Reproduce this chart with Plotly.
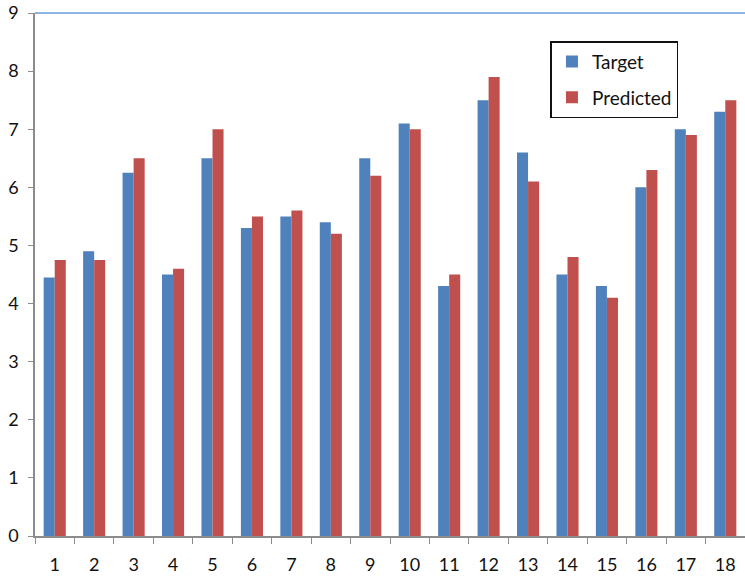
import plotly.graph_objects as go

categories = [str(i) for i in range(1, 19)]
target = [4.45, 4.9, 6.25, 4.5, 6.5, 5.3, 5.5, 5.4, 6.5, 7.1, 4.3, 7.5, 6.6, 4.5, 4.3, 6.0, 7.0, 7.3]
predicted = [4.75, 4.75, 6.5, 4.6, 7.0, 5.5, 5.6, 5.2, 6.2, 7.0, 4.5, 7.9, 6.1, 4.8, 4.1, 6.3, 6.9, 7.5]

BLUE = "#4F81BD"
RED = "#C0504D"
AXIS = "#8C8C8C"
FONT = "Lato, 'Open Sans', sans-serif"

fig = go.Figure()
fig.add_trace(go.Bar(x=categories, y=target, name="Target", marker_color=BLUE,
                     marker_line_width=0, legendgroup="t"))
fig.add_trace(go.Bar(x=categories, y=predicted, name="Predicted", marker_color=RED,
                     marker_line_width=0, legendgroup="p"))

# light blue line along the top of the plot area (at 9)
fig.add_shape(type="line", xref="paper", yref="paper", x0=0, x1=1, y0=1, y1=1,
              line=dict(color="#8EB4E3", width=2))

fig.update_layout(
    width=745, height=576,
    margin=dict(l=35, r=0, t=13, b=40),
    paper_bgcolor="white", plot_bgcolor="white",
    barmode="group", bargap=0.44, bargroupgap=0,
    font=dict(family=FONT, size=18, color="#111111"),
    showlegend=True,
    legend=dict(
        x=0.726, y=0.946, xanchor="left", yanchor="top",
        bordercolor="#111111", borderwidth=1.5, bgcolor="white",
        font=dict(family=FONT, size=19, color="#111111"),
        tracegroupgap=8,
    ),
    xaxis=dict(
        type="category", showgrid=False, showline=True, linecolor=AXIS, linewidth=1.5,
        ticks="outside", tickson="boundaries", ticklen=6, tickcolor=AXIS,
        tickfont=dict(size=18), ticklabelstandoff=12,
    ),
    yaxis=dict(
        range=[0, 9], dtick=1, showgrid=False, zeroline=False,
        showline=True, linecolor=AXIS, linewidth=1.5,
        ticks="outside", ticklen=5, tickcolor=AXIS,
        tickfont=dict(size=18), ticklabelstandoff=6,
    ),
)

fig.write_html("out.html", config={"displayModeBar": False},
               post_script="document.body.style.margin='0';")
